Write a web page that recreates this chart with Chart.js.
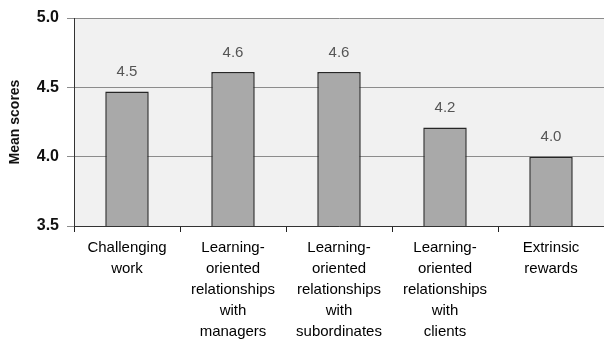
<!DOCTYPE html>
<html>
<head>
<meta charset="utf-8">
<script src="https://cdn.jsdelivr.net/npm/chart.js@4.4.0/dist/chart.umd.min.js"></script>
<style>
    body { margin: 0; background: #ffffff; }
    #wrap { width: 604px; height: 340px; }
</style>
</head>
<body>
<div id="wrap"><canvas id="scoresChart" width="604" height="340"></canvas></div>
<script>
const categories = [
    ['Challenging', 'work'],
    ['Learning-', 'oriented', 'relationships', 'with', 'managers'],
    ['Learning-', 'oriented', 'relationships', 'with', 'subordinates'],
    ['Learning-', 'oriented', 'relationships', 'with', 'clients'],
    ['Extrinsic', 'rewards']
];
const meanScores = [4.47, 4.61, 4.61, 4.21, 4.0];
const yTicks = [3.5, 4.0, 4.5, 5.0];

const FONT = "'Liberation Sans', Arial, sans-serif";

// light grey panel behind the bars
const panelBg = {
    id: 'panelBg',
    beforeDraw(chart) {
        const { ctx, chartArea: a } = chart;
        ctx.save();
        ctx.fillStyle = '#f1f1f1';
        ctx.fillRect(a.left, a.top, a.right - a.left, a.bottom - a.top);
        ctx.restore();
    }
};

// value printed above each bar
const valueLabels = {
    id: 'valueLabels',
    afterDatasetsDraw(chart) {
        const { ctx } = chart;
        const meta = chart.getDatasetMeta(0);
        ctx.save();
        ctx.font = '15px ' + FONT;
        ctx.fillStyle = '#555555';
        ctx.textAlign = 'center';
        ctx.textBaseline = 'bottom';
        meta.data.forEach((bar, i) => {
            ctx.fillText(meanScores[i].toFixed(1), bar.x, bar.y - 12);
        });
        ctx.restore();
    }
};

new Chart(document.getElementById('scoresChart'), {
    type: 'bar',
    data: {
        labels: categories,
        datasets: [{
            data: meanScores,
            backgroundColor: '#a9a9a9',
            borderColor: '#262626',
            borderWidth: 1.5,
            borderSkipped: false,
            categoryPercentage: 1,
            barPercentage: 0.41
        }]
    },
    options: {
        responsive: false,
        animation: false,
        layout: { padding: { top: 18, right: 0, left: 0, bottom: 0 } },
        plugins: {
            legend: { display: false },
            tooltip: { enabled: false }
        },
        scales: {
            x: {
                offset: true,
                grid: {
                    offset: true,
                    drawOnChartArea: false,
                    drawTicks: true,
                    tickLength: 6,
                    color: '#222222'
                },
                border: { display: true, color: '#333333', width: 1 },
                ticks: {
                    autoSkip: false,
                    maxRotation: 0,
                    padding: 5,
                    color: '#000000',
                    font: { family: FONT, size: 15, lineHeight: 1.4 }
                },
                afterFit(scale) { scale.height = 114; }
            },
            y: {
                min: 3.5,
                max: 5.0,
                afterBuildTicks(scale) {
                    scale.ticks = yTicks.map(v => ({ value: v }));
                },
                grid: {
                    color: '#8c8c8c',
                    drawTicks: true,
                    tickLength: 7
                },
                border: { display: true, color: '#333333', width: 1 },
                ticks: {
                    padding: 8,
                    color: '#111111',
                    font: { family: FONT, size: 16, weight: 'bold' },
                    callback: v => Number(v).toFixed(1)
                },
                title: {
                    display: true,
                    text: 'Mean scores',
                    color: '#111111',
                    padding: { top: 7, bottom: 0 },
                    font: { family: FONT, size: 14, weight: 'bold' }
                },
                afterFit(scale) { scale.width = 74; }
            }
        }
    },
    plugins: [panelBg, valueLabels]
});
</script>
</body>
</html>
